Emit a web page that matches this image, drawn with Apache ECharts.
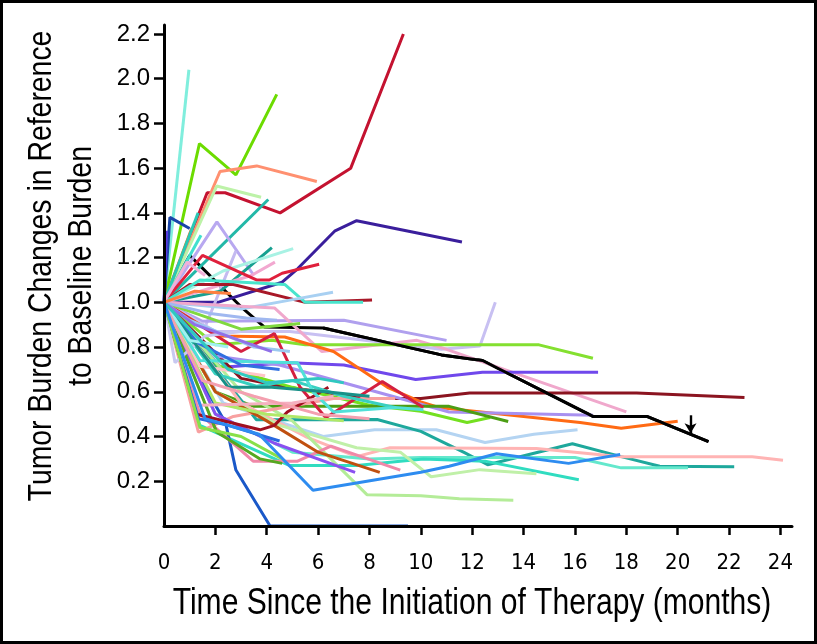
<!DOCTYPE html>
<html><head><meta charset="utf-8">
<script src="https://cdn.jsdelivr.net/npm/echarts@6/dist/echarts.min.js"></script>
<style>html,body{margin:0;padding:0;background:#fff}#c{width:817px;height:644px}</style>
</head><body><div id="c"></div>
<script>
// ---- tick labels ----
const xTickValues = [0,2,4,6,8,10,12,14,16,18,20,22,24];
const yTickValues = [0.2,0.4,0.6,0.8,1.0,1.2,1.4,1.6,1.8,2.0,2.2];
const xTitle = 'Time Since the Initiation of Therapy (months)';
const yTitle = 'Tumor Burden Changes in Reference\nto Baseline Burden';

// ---- per-patient trajectories: [months, ratio to baseline] ----
const p01 = [[0,1],[1.68,1.49],[2.38,1.49],[4.52,1.40],[7.27,1.60],[9.32,2.20]];
const p02 = [[0,1],[0.97,2.04]];
const p03 = [[0,1],[1.38,1.71],[2.8,1.57],[4.39,1.93]];
const p04 = [[0,1],[2.18,1.585],[3.61,1.61],[5.95,1.54]];
const p05 = [[0,1],[2.05,1.52],[3.78,1.47]];
const p06 = [[0,1],[4.06,1.46]];
const p07 = [[0,1],[2.1,1.0],[4.6,1.09],[5.2,1.15],[6.66,1.32],[7.5,1.365],[11.6,1.27]];
const p08 = [[0,1],[0.23,1.38],[1.0,1.33]];
const p09 = [[0,1],[1.08,1.33]];
const p10 = [[0,1],[0.1,1.32]];
const p11 = [[0,1],[1.33,1.40]];
const p12 = [[0,1],[1.44,1.30]];
const p13 = [[0,1],[2.06,1.36],[3.5,1.12]];
const p14 = [[0,1],[1.6,0.89],[2.8,1.23]];
const p15 = [[0,1],[2.2,1.05],[4.2,1.245]];
const p16 = [[0,1],[2.3,1.14],[5.03,1.24]];
const p17 = [[0,1],[3.4,1.12],[4.32,1.18]];
const p18 = [[0,1],[1.5,1.21],[3.6,1.10],[4.1,1.10],[4.6,1.13],[6.04,1.17]];
const p19 = [[0,1],[1.0,1.08],[2.7,1.08],[5.5,1.0],[8.1,1.01]];
const p20 = [[0,1],[1.4,1.10],[4.7,1.08],[5.5,1.0],[7.75,1.0]];
const p21 = [[0,1],[3.0,0.97],[4.9,1.01],[6.58,1.045]];
const p22 = [[0,1],[1.6,0.48],[3.7,0.41],[5.8,0.16],[10.0,0.24],[11.1,0.267],[12.95,0.323],[15.75,0.28],[17.76,0.32]];
const p23 = [[0,1],[1.5,0.915],[7.0,0.92],[11.0,0.83]];
const p24 = [[0,1],[2.0,0.87],[4.9,0.87],[10.8,0.79],[12.3,0.805],[12.9,1.0]];
const p25 = [[0,1],[4.3,0.975],[6.15,0.78],[9.85,0.83],[11.0,0.79],[18.0,0.51]];
const p26 = [[0,1],[2.0,0.81],[4.2,0.83],[5.5,0.81],[14.6,0.81],[16.7,0.75]];
const p27 = [[0,1],[2.2,0.71],[4.9,0.73],[7.0,0.72],[9.8,0.655],[12.4,0.687],[16.9,0.687]];
const p28 = [[0,1],[3.0,0.66],[4.8,0.62],[8.0,0.57],[10.0,0.57],[11.9,0.595],[18.4,0.595],[22.6,0.574]];
const p29 = [[0,1],[2.1,0.85],[4.7,0.845],[6.6,0.78],[8.7,0.62],[10.0,0.555],[10.7,0.53],[16.2,0.463],[17.8,0.437],[20.0,0.468]];
const p30 = [[0,1],[2.0,0.76],[4.5,0.72],[11.1,0.51],[16.7,0.495]];
const p31 = [[0,1],[2.0,0.72],[5.0,0.62],[8.0,0.54],[10.0,0.513],[11.8,0.463],[12.7,0.485]];
const p32 = [[0,1],[2.0,0.60],[3.5,0.535],[11.1,0.535],[13.4,0.467]];
const p33 = [[0,1],[2.3,0.55],[4.9,0.45],[6.2,0.40],[8.2,0.43],[10.6,0.43],[12.5,0.373],[14.4,0.41],[16.1,0.43]];
const p34 = [[0,1],[3.6,0.475],[8.3,0.476],[10.0,0.423],[11.7,0.328],[12.6,0.274],[15.9,0.368],[17.8,0.31],[19.3,0.267],[22.2,0.265]];
const p35 = [[0,1],[3.0,0.55],[5.5,0.40],[7.5,0.31],[8.8,0.35],[14.5,0.346],[17.8,0.31],[22.9,0.31],[24.1,0.294]];
const p36 = [[0,1],[2.0,0.50],[5.0,0.33],[8.0,0.30],[9.97,0.306],[16.0,0.306],[17.8,0.26],[20.4,0.26]];
const p37 = [[0,1],[1.4,0.45],[4.9,0.27],[7.5,0.27],[10.1,0.30],[12.5,0.29],[16.15,0.207]];
const p38 = [[0,1],[2.0,0.60],[4.5,0.45],[7.5,0.35],[9.2,0.33],[10.4,0.22],[12.3,0.252],[14.5,0.234]];
const p39 = [[0,1],[3.0,0.60],[5.0,0.47],[7.9,0.14],[10.0,0.135],[11.5,0.122],[13.6,0.115]];
const p40 = [[0,1],[1.7,0.60],[2.4,0.46],[2.8,0.25],[4.13,0],[9.5,0]];
const p41 = [[0,1],[1.4,0.50],[3.47,0.29],[5.2,0.29],[6.5,0.357],[9.2,0.25]];
const p42 = [[0,1],[1.34,0.42],[2.7,0.49],[6.6,0.57],[9.0,0.57]];
const p43 = [[0,1],[2.0,0.60],[4.0,0.47],[6.0,0.33],[8.4,0.24]];
const p44 = [[0,1],[2.0,0.50],[4.3,0.37],[7.44,0.24]];
const p45 = [[0,1],[2.05,0.42],[3.74,0.30],[4.6,0.28]];
const p46 = [[0,1],[3.0,0.78],[4.3,0.86],[5.3,0.62],[6.3,0.484],[8.5,0.646],[10.1,0.53]];
const p47 = [[0,1],[1.4,0.714],[3.94,0.672]];
const p48 = [[0,1],[1.27,0.50],[3.74,0.43],[4.3,0.45],[4.8,0.51],[6.4,0.62]];
const p49 = [[0,1],[2.0,0.68],[3.6,0.625],[5.0,0.65],[7.0,0.58],[9.0,0.53]];
const p50 = [[0,1],[0.43,0.73],[1.6,0.85],[3.0,0.87]];
const p51 = [[0,1],[1.4,0.74],[5.2,0.73],[5.8,0.60],[6.6,0.51],[9.0,0.53],[10.1,0.52]];
const p52 = [[0,1],[2.0,0.55],[4.0,0.50],[7.0,0.47]];
const p53 = [[0,1],[1.3,0.82],[3.0,0.72],[4.5,0.70]];
const p54 = [[0,1],[3.0,0.88],[5.3,0.905]];
const p55 = [[0,1],[1.0,0.92],[3.5,0.80],[4.9,0.78]];
const p56 = [[0,1],[2.5,0.62],[4.2,0.62],[6.3,0.60],[8.0,0.58]];
const p57 = [[0,1],[1.4,0.54],[5.0,0.55],[6.6,0.58]];
const p58 = [[0,1],[1.0,0.83],[2.5,0.80]];
const p59 = [[0,1],[1.34,0.48],[2.5,0.45],[4.5,0.38]];
const p60 = [[0,1],[1.4,0.44],[3.0,0.40],[4.6,0.30]];
const p61 = [[0,1],[1.5,0.65],[3.5,0.58],[6.0,0.50],[8.0,0.48]];
const p62 = [[0,1],[1.8,0.95],[3.2,0.93],[4.4,0.92]];
const p63 = [[0,1],[1.2,0.90],[2.7,0.84],[4.2,0.78]];
const p64 = [[0,1],[2.5,0.70],[4.0,0.64],[6.0,0.66],[7.0,0.64]];
const p65 = [[0,1],[0.9,1.18],[1.6,1.12]];
const p66 = [[0,1],[1.2,1.05],[2.6,1.04]];
const blackPatient = [[0,1],[1.0,1.21],[3.0,0.98],[3.9,0.89],[6.2,0.885],[10.8,0.765],[12.4,0.74],[16.7,0.49],[18.8,0.49],[21.2,0.377]];
const arrowMark = [[20.5,0.495],[20.5,0.415]];

const patients = [p01,p02,p03,p04,p05,p06,p07,p08,p09,p10,p11,p12,p13,p14,p15,p16,p17,p18,p19,p20,p21,
  p23,p24,p25,p26,p27,p28,p29,p30,p31,p32,p33,p34,p35,p36,p37,p38,p39,p40,p41,p42,p43,p44,p45,p46,p47,p48,
  p49,p50,p51,p52,p53,p54,p55,p56,p57,p58,p59,p60,p61,p62,p63,p64,p65,p66,p22];
const lineColors = ['#c41230','#80eedd','#6cdc00','#ff9070','#bdf2a8','#22b8a8','#3a1e9c','#1844a8','#f07020','#5a3ce0',
  '#28c8b4','#40e0d0','#b8a8f0','#c4baf0','#17a090','#a8f2e4','#f2a8d0','#e0203c','#a81828','#48e4cc','#a8d0f2',
  '#b0a0ee','#c8c0f2','#f0a8cc','#84e030','#7048ec','#8b1420','#ff6a14','#a890f0','#74e020','#4c9e14','#b4d4f2',
  '#1ea89c','#ffb4b4','#64e8cc','#30dcc0','#c0f0a8','#b4ec98','#1a58c8','#f088a8','#f8a0a0','#c05010','#8a50f0',
  '#56a820','#d42040','#ffc4c8','#a01020','#38d0c0','#c8c8f0','#50e0d8','#b0e868','#3070e0','#80d840','#9cc8f0',
  '#189088','#f4b0c0','#a0f0f0','#2868e0','#88e048','#f4a0b0','#a0b8f0','#9070e8','#30c8c0','#f0b0d8','#ff8040','#2e8cf0'];

const condensed = '"DejaVu Sans Condensed", sans-serif';
const regular = '"Liberation Sans", Arial, sans-serif';

// black trajectory drawn first so the coloured lines overlap it near baseline
const series = [{
  type:'line', data:blackPatient, symbol:'none', silent:true, z:2,
  lineStyle:{color:'#000', width:3},
  markLine:{silent:true, symbol:['none','arrow'], symbolSize:[9,10], label:{show:false},
    lineStyle:{color:'#000', width:2.4, type:'solid'},
    data:[[{coord:arrowMark[0]},{coord:arrowMark[1]}]]}
}];
patients.forEach((d,i)=>series.push({
  type:'line', data:d, symbol:'none', silent:true, z:2,
  lineStyle:{color:lineColors[i % lineColors.length], width:3}
}));
// right-hand part of black line stays on top
series.push({type:'line', data:blackPatient.slice(4), symbol:'none', silent:true, z:3, lineStyle:{color:'#000', width:3}});

const chart = echarts.init(document.getElementById('c'), null, {renderer:'canvas'});
chart.setOption({
  animation:false,
  backgroundColor:'#fff',
  grid:{left:164, right:25, top:25, bottom:118, containLabel:false},
  xAxis:{type:'value', min:0, max:24.45, z:5,
    axisLine:{show:true, lineStyle:{color:'#000', width:3}},
    axisTick:{show:true, length:9, lineStyle:{color:'#000', width:2.5}, customValues:xTickValues.slice(1)},
    axisLabel:{color:'#000', fontSize:22, fontFamily:condensed, margin:26,
      customValues:xTickValues, formatter:v=>String(v)},
    splitLine:{show:false}},
  yAxis:{type:'value', min:0, max:2.24, z:5,
    axisLine:{show:true, lineStyle:{color:'#000', width:3}},
    axisTick:{show:true, length:10, lineStyle:{color:'#000', width:2.5}, customValues:yTickValues},
    axisLabel:{color:'#000', fontSize:24, fontFamily:regular, margin:14,
      customValues:yTickValues, formatter:v=>v.toFixed(1)},
    splitLine:{show:false}},
  graphic:[
    {type:'rect', silent:true, shape:{x:1.5,y:1.5,width:814,height:641}, style:{fill:'none', stroke:'#000', lineWidth:3}},
    {type:'text', silent:true, x:472, y:604, scaleX:0.835, style:{text:xTitle, fill:'#000', font:'36px ' + regular, textAlign:'center', textVerticalAlign:'middle'}},
    {type:'text', silent:true, x:62, y:266, rotation:Math.PI/2, scaleX:0.835, style:{text:yTitle, fill:'#000', font:'34px ' + regular, lineHeight:40, textAlign:'center', textVerticalAlign:'middle'}}
  ],
  series:series
});
</script></body></html>
